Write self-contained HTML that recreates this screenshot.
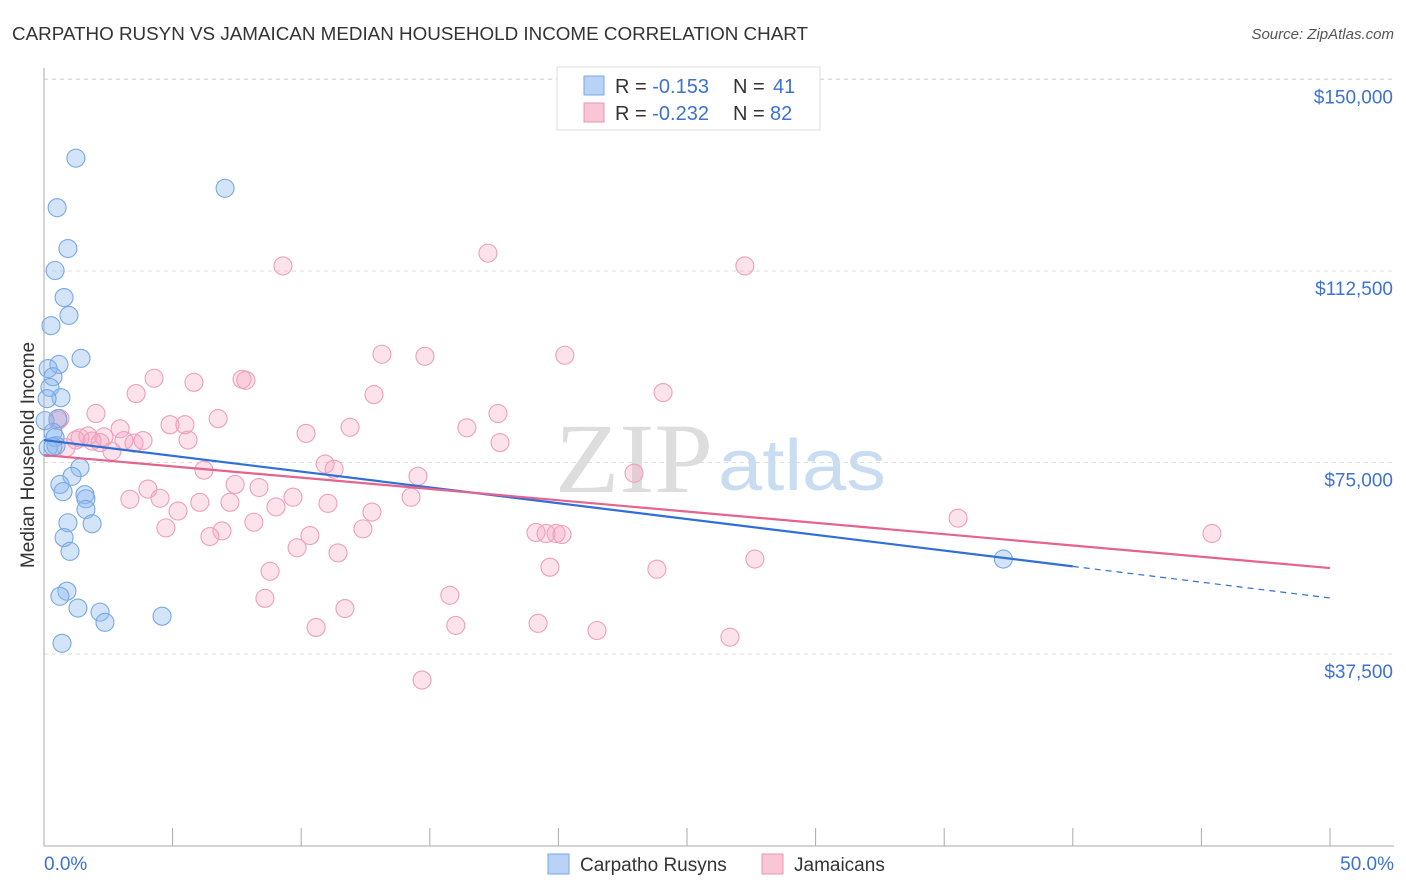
<!DOCTYPE html>
<html><head><meta charset="utf-8"><style>
body{margin:0;background:#fff;font-family:"Liberation Sans",sans-serif;}
svg{display:block}
</style></head><body>
<svg width="1406" height="892" xmlns="http://www.w3.org/2000/svg">
<text x="12" y="40" font-size="18" fill="#333" textLength="796" lengthAdjust="spacingAndGlyphs">CARPATHO RUSYN VS JAMAICAN MEDIAN HOUSEHOLD INCOME CORRELATION CHART</text>
<text x="1394" y="39" font-size="15" fill="#555" font-style="italic" text-anchor="end">Source: ZipAtlas.com</text>
<text x="555" y="492" font-size="100" fill="#ddd" font-family="Liberation Serif,serif" textLength="158" lengthAdjust="spacingAndGlyphs">ZIP</text>
<text x="718" y="490" font-size="72" fill="#c8dcf2" textLength="168" lengthAdjust="spacingAndGlyphs">atlas</text>
<g id="grid"></g><g id="axes"></g><g id="marks"></g>
<text transform="translate(34,455) rotate(-90)" font-size="19" fill="#333" text-anchor="middle">Median Household Income</text>
<g>
<rect x="557" y="67" width="263" height="63" fill="#fff" stroke="#ddd"/>
<rect x="584" y="76" width="20" height="19" fill="#b8d3f5" stroke="#7aa8e6"/>
<rect x="584" y="103" width="20" height="19" fill="#f9c6d6" stroke="#eb94b4"/>
<text x="615" y="93" font-size="20" fill="#333">R = <tspan fill="#3d72d0">-0.153</tspan><tspan x="733">N = </tspan><tspan fill="#3d72d0" x="773">41</tspan></text>
<text x="615" y="120" font-size="20" fill="#333">R = <tspan fill="#3d72d0">-0.232</tspan><tspan x="733">N = </tspan><tspan fill="#3d72d0" x="770">82</tspan></text>
</g>
<g>
<rect x="548" y="854" width="21" height="20" fill="#b8d3f5" stroke="#7aa8e6"/>
<text x="580" y="871" font-size="19" fill="#333">Carpatho Rusyns</text>
<rect x="762" y="854" width="21" height="20" fill="#f9c6d6" stroke="#eb94b4"/>
<text x="794" y="871" font-size="19" fill="#333">Jamaicans</text>
</g>
</svg>
<script>
const yTicks=[37500,75000,112500,150000];
const yTickLabels=["$37,500","$75,000","$112,500","$150,000"];
const xTickLabels=["0.0%","50.0%"];
const blueX=[1.24,7.04,0.51,0.93,0.43,0.78,0.97,0.27,1.44,0.58,0.16,0.35,0.23,0.66,0.12,0.54,0.35,0.43,0.16,0.47,1.40,1.09,0.62,0.74,1.59,1.63,1.63,0.93,1.87,0.78,1.01,0.89,0.62,1.32,2.18,2.37,4.59,0.70,37.30,0.04,0.35];
const blueY=[134600,128700,124900,116900,112600,107300,103800,101800,95400,94200,93400,91800,89700,87700,87500,83600,80900,79900,77900,78300,74000,72300,70700,69300,68700,67900,65800,63200,63000,60300,57600,49800,48800,46500,45700,43700,44900,39600,56100,83200,78100];
const pinkX=[9.29,17.26,27.25,13.14,14.81,20.25,4.28,7.70,7.85,5.83,3.58,12.83,24.07,2.02,6.77,17.65,0.54,2.96,4.90,5.48,10.19,11.90,16.44,1.71,2.33,1.24,3.50,5.60,2.64,2.18,3.11,3.85,17.73,10.93,11.28,6.22,14.54,22.94,7.43,4.04,8.36,3.34,4.51,6.06,7.23,9.68,14.27,11.04,5.21,9.02,12.75,8.16,4.74,6.92,12.40,6.45,10.34,19.13,19.52,19.91,20.14,35.54,45.41,9.84,11.43,27.64,8.79,19.67,23.83,8.59,15.78,11.70,10.58,16.01,19.21,21.50,26.67,14.70,0.62,1.40,0.86,1.87];
const pinkY=[113500,116000,113500,96200,95800,96000,91500,91300,91100,90700,88500,88300,88700,84600,83600,84600,83200,81600,82400,82400,80700,81900,81800,80200,80000,79400,78800,79400,77200,78900,79300,79300,78900,74700,73700,73500,72300,72900,70700,69800,70100,67800,68000,67200,67200,68200,68200,67000,65500,66300,65300,63300,62200,61600,62000,60500,60700,61300,61100,61100,60900,64100,61100,58300,57300,56100,53700,54500,54100,48400,49000,46400,42700,43100,43500,42100,40800,32400,83600,79800,77900,79200];
const blueTrend=[79400,48470];
const blueSolidEnd=40;
const pinkTrend=[76460,54330];
const NS="http://www.w3.org/2000/svg";
const X=p=>44+p/50*1286, Y=v=>845.5-v/37500*191.5;
function mk(tag,attrs,parent){const e=document.createElementNS(NS,tag);for(const k in attrs)e.setAttribute(k,attrs[k]);parent.appendChild(e);return e;}
const grid=document.getElementById('grid'),axes=document.getElementById('axes'),marks=document.getElementById('marks');
yTicks.forEach((v,i)=>{
 const l=mk('line',{x1:44,x2:1394,y1:Y(v),y2:Y(v),stroke:'#ddd','stroke-dasharray':'4,4'},grid);
 
 
 const t=mk('text',{x:1393,y:Y(v)+24,'font-size':19,fill:'#3d72d0','text-anchor':'end'},axes);
 t.textContent=yTickLabels[i];
 
 
});
const topG=mk('line',{x1:44,x2:1394,y1:79,y2:79,stroke:'#ddd','stroke-dasharray':'4,4'},grid);


const ya=mk('line',{x1:44,x2:44,y1:68,y2:846,stroke:'#aaa'},axes);


const xa=mk('line',{x1:44,x2:1394,y1:846,y2:846,stroke:'#aaa'},axes);


for(let p=5;p<=50;p+=5){const t=mk('line',{x1:X(p),x2:X(p),y1:828,y2:846,stroke:'#aaa'},axes);
 
 }
[[0,'start',44],[50,'end',1394]].forEach((d,i)=>{const t=mk('text',{x:d[2],y:870,'font-size':19,fill:'#3d72d0','text-anchor':d[1]},axes);t.textContent=xTickLabels[i];
 
 });
pinkX.forEach((x,i)=>{const c=mk('circle',{cx:X(x),cy:Y(pinkY[i]),r:9,fill:'rgba(245,165,192,0.32)',stroke:'#ee9fbc','stroke-width':1.1},marks);
 
 });
blueX.forEach((x,i)=>{const c=mk('circle',{cx:X(x),cy:Y(blueY[i]),r:9,fill:'rgba(140,185,240,0.38)',stroke:'#78a8e4','stroke-width':1.1},marks);
 
 });
const bv=p=>blueTrend[0]+(blueTrend[1]-blueTrend[0])*p/50;
const b1=mk('line',{x1:X(0),y1:Y(bv(0)),x2:X(blueSolidEnd),y2:Y(bv(blueSolidEnd)),stroke:'#2f6fd6','stroke-width':2.2},marks);


const b2=mk('line',{x1:X(blueSolidEnd),y1:Y(bv(blueSolidEnd)),x2:X(50),y2:Y(bv(50)),stroke:'#2f6fd6','stroke-width':1.2,'stroke-dasharray':'6,5'},marks);


const pl=mk('line',{x1:X(0),y1:Y(pinkTrend[0]),x2:X(50),y2:Y(pinkTrend[1]),stroke:'#e4638f','stroke-width':2.2},marks);


</script>
</body></html>
